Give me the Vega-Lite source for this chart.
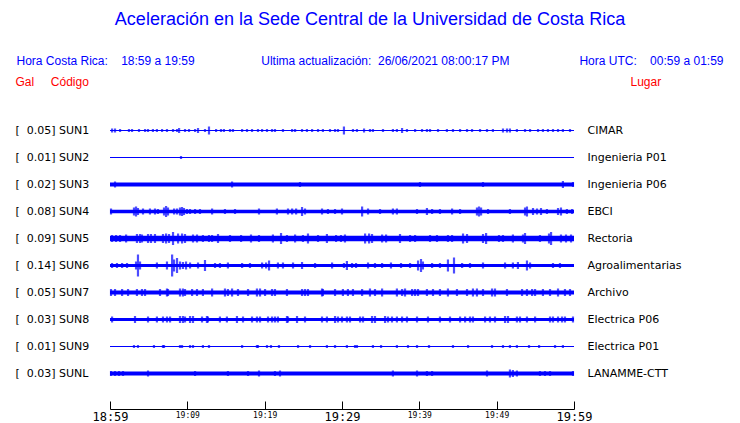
{
  "$schema": "https://vega.github.io/schema/vega-lite/v6.json",
  "autosize": {"type": "none"},
  "width": 464,
  "height": 270,
  "padding": {"left": 110, "top": 117, "right": 166, "bottom": 36},
  "background": "white",
  "config": {"view": {"stroke": null}, "font": "DejaVu Sans"},
  "title": {
    "text": "Aceleración en la Sede Central de la Universidad de Costa Rica",
    "subtitle": "Hora Costa Rica:\u00a0\u00a0\u00a0\u00a018:59 a 19:59\u00a0\u00a0\u00a0\u00a0\u00a0\u00a0\u00a0\u00a0\u00a0\u00a0\u00a0\u00a0\u00a0\u00a0\u00a0\u00a0\u00a0\u00a0\u00a0\u00a0Ultima actualización:\u00a0\u00a026/06/2021 08:00:17 PM\u00a0\u00a0\u00a0\u00a0\u00a0\u00a0\u00a0\u00a0\u00a0\u00a0\u00a0\u00a0\u00a0\u00a0\u00a0\u00a0\u00a0\u00a0\u00a0\u00a0\u00a0Hora UTC:\u00a0\u00a0\u00a0\u00a000:59 a 01:59",
    "anchor": "middle",
    "frame": "group",
    "dx": 28,
    "offset": 8,
    "color": "blue",
    "font": "Liberation Sans",
    "fontSize": 18,
    "fontWeight": "normal",
    "subtitleColor": "blue",
    "subtitleFont": "Liberation Sans",
    "subtitleFontSize": 12,
    "subtitlePadding": 27
  },
  "datasets": {
    "stations": [
      {"idx": 1, "s": "SUN1", "label": "[\u00a0\u00a00.05] SUN1", "place": "CIMAR", "ruido": 1, "t0": "18:59:00", "t1": "19:59:00"},
      {"idx": 2, "s": "SUN2", "label": "[\u00a0\u00a00.01] SUN2", "place": "Ingenieria P01", "ruido": 1, "t0": "18:59:00", "t1": "19:59:00"},
      {"idx": 3, "s": "SUN3", "label": "[\u00a0\u00a00.02] SUN3", "place": "Ingenieria P06", "ruido": 4, "t0": "18:59:00", "t1": "19:59:00"},
      {"idx": 4, "s": "SUN4", "label": "[\u00a0\u00a00.08] SUN4", "place": "EBCI", "ruido": 3.5, "t0": "18:59:00", "t1": "19:59:00"},
      {"idx": 5, "s": "SUN5", "label": "[\u00a0\u00a00.09] SUN5", "place": "Rectoria", "ruido": 5.5, "t0": "18:59:00", "t1": "19:59:00"},
      {"idx": 6, "s": "SUN6", "label": "[\u00a0\u00a00.14] SUN6", "place": "Agroalimentarias", "ruido": 3, "t0": "18:59:00", "t1": "19:59:00"},
      {"idx": 7, "s": "SUN7", "label": "[\u00a0\u00a00.05] SUN7", "place": "Archivo", "ruido": 4, "t0": "18:59:00", "t1": "19:59:00"},
      {"idx": 8, "s": "SUN8", "label": "[\u00a0\u00a00.03] SUN8", "place": "Electrica P06", "ruido": 3, "t0": "18:59:00", "t1": "19:59:00"},
      {"idx": 9, "s": "SUN9", "label": "[\u00a0\u00a00.01] SUN9", "place": "Electrica P01", "ruido": 1, "t0": "18:59:00", "t1": "19:59:00"},
      {"idx": 10, "s": "SUNL", "label": "[\u00a0\u00a00.03] SUNL", "place": "LANAMME-CTT", "ruido": 4, "t0": "18:59:00", "t1": "19:59:00"}
    ],
    "spikes": [
      {"s":"SUN1","t":"18:59:16","a":4},{"s":"SUN1","t":"18:59:39","a":4},{"s":"SUN1","t":"19:00:18","a":3},{"s":"SUN1","t":"19:01:27","a":3},{"s":"SUN1","t":"19:01:51","a":3},{"s":"SUN1","t":"19:02:45","a":3},{"s":"SUN1","t":"19:03:32","a":3},{"s":"SUN1","t":"19:03:55","a":3},{"s":"SUN1","t":"19:04:33","a":3},{"s":"SUN1","t":"19:05:04","a":3},{"s":"SUN1","t":"19:05:44","a":3},{"s":"SUN1","t":"19:06:22","a":3},{"s":"SUN1","t":"19:07:09","a":3},{"s":"SUN1","t":"19:07:40","a":3},{"s":"SUN1","t":"19:07:56","a":5},{"s":"SUN1","t":"19:08:42","a":3},{"s":"SUN1","t":"19:09:13","a":3},{"s":"SUN1","t":"19:10:00","a":3},{"s":"SUN1","t":"19:10:23","a":5},{"s":"SUN1","t":"19:11:17","a":3},{"s":"SUN1","t":"19:11:48","a":8},{"s":"SUN1","t":"19:12:43","a":3},{"s":"SUN1","t":"19:13:21","a":3},{"s":"SUN1","t":"19:13:44","a":3},{"s":"SUN1","t":"19:14:31","a":3},{"s":"SUN1","t":"19:14:54","a":3},{"s":"SUN1","t":"19:16:05","a":3},{"s":"SUN1","t":"19:16:43","a":3},{"s":"SUN1","t":"19:17:22","a":3},{"s":"SUN1","t":"19:18:08","a":3},{"s":"SUN1","t":"19:18:40","a":3},{"s":"SUN1","t":"19:19:18","a":3},{"s":"SUN1","t":"19:19:57","a":3},{"s":"SUN1","t":"19:20:20","a":3},{"s":"SUN1","t":"19:21:22","a":3},{"s":"SUN1","t":"19:22:33","a":3},{"s":"SUN1","t":"19:22:56","a":3},{"s":"SUN1","t":"19:23:50","a":3},{"s":"SUN1","t":"19:24:28","a":3},{"s":"SUN1","t":"19:25:08","a":3},{"s":"SUN1","t":"19:25:54","a":3},{"s":"SUN1","t":"19:26:32","a":3},{"s":"SUN1","t":"19:27:27","a":3},{"s":"SUN1","t":"19:28:06","a":3},{"s":"SUN1","t":"19:28:29","a":3},{"s":"SUN1","t":"19:29:15","a":8},{"s":"SUN1","t":"19:30:25","a":3},{"s":"SUN1","t":"19:30:56","a":3},{"s":"SUN1","t":"19:31:51","a":4},{"s":"SUN1","t":"19:32:37","a":3},{"s":"SUN1","t":"19:33:00","a":3},{"s":"SUN1","t":"19:34:18","a":3},{"s":"SUN1","t":"19:35:35","a":3},{"s":"SUN1","t":"19:36:06","a":3},{"s":"SUN1","t":"19:36:46","a":5},{"s":"SUN1","t":"19:37:24","a":3},{"s":"SUN1","t":"19:38:27","a":3},{"s":"SUN1","t":"19:39:21","a":3},{"s":"SUN1","t":"19:39:59","a":3},{"s":"SUN1","t":"19:40:23","a":3},{"s":"SUN1","t":"19:41:25","a":3},{"s":"SUN1","t":"19:42:34","a":3},{"s":"SUN1","t":"19:43:21","a":3},{"s":"SUN1","t":"19:44:16","a":3},{"s":"SUN1","t":"19:45:10","a":3},{"s":"SUN1","t":"19:45:49","a":3},{"s":"SUN1","t":"19:46:51","a":3},{"s":"SUN1","t":"19:47:45","a":3},{"s":"SUN1","t":"19:48:31","a":3},{"s":"SUN1","t":"19:49:49","a":4},{"s":"SUN1","t":"19:50:20","a":4},{"s":"SUN1","t":"19:50:43","a":4},{"s":"SUN1","t":"19:51:37","a":3},{"s":"SUN1","t":"19:52:40","a":3},{"s":"SUN1","t":"19:53:19","a":3},{"s":"SUN1","t":"19:54:21","a":3},{"s":"SUN1","t":"19:54:59","a":3},{"s":"SUN1","t":"19:55:38","a":3},{"s":"SUN1","t":"19:56:17","a":3},{"s":"SUN1","t":"19:56:56","a":3},{"s":"SUN1","t":"19:57:34","a":3},{"s":"SUN1","t":"19:58:29","a":3},
      {"s":"SUN2","t":"19:08:11","a":3},
      {"s":"SUN3","t":"18:59:39","a":6},{"s":"SUN3","t":"19:14:47","a":6},{"s":"SUN3","t":"19:23:34","a":5},{"s":"SUN3","t":"19:39:05","a":5},{"s":"SUN3","t":"19:47:14","a":5},{"s":"SUN3","t":"19:57:34","a":7},{"s":"SUN3","t":"19:58:52","a":5},
      {"s":"SUN4","t":"18:59:08","a":6},{"s":"SUN4","t":"19:02:06","a":8},{"s":"SUN4","t":"19:02:22","a":10},{"s":"SUN4","t":"19:02:37","a":7},{"s":"SUN4","t":"19:03:16","a":6},{"s":"SUN4","t":"19:04:10","a":6},{"s":"SUN4","t":"19:04:49","a":6},{"s":"SUN4","t":"19:05:12","a":5},{"s":"SUN4","t":"19:05:59","a":8},{"s":"SUN4","t":"19:06:15","a":11},{"s":"SUN4","t":"19:06:30","a":8},{"s":"SUN4","t":"19:07:17","a":6},{"s":"SUN4","t":"19:07:40","a":6},{"s":"SUN4","t":"19:08:03","a":8},{"s":"SUN4","t":"19:08:19","a":9},{"s":"SUN4","t":"19:08:34","a":7},{"s":"SUN4","t":"19:08:57","a":5},{"s":"SUN4","t":"19:09:21","a":5},{"s":"SUN4","t":"19:10:00","a":5},{"s":"SUN4","t":"19:10:38","a":5},{"s":"SUN4","t":"19:12:12","a":6},{"s":"SUN4","t":"19:13:52","a":5},{"s":"SUN4","t":"19:15:10","a":5},{"s":"SUN4","t":"19:18:16","a":6},{"s":"SUN4","t":"19:20:35","a":6},{"s":"SUN4","t":"19:22:01","a":6},{"s":"SUN4","t":"19:22:33","a":6},{"s":"SUN4","t":"19:23:04","a":6},{"s":"SUN4","t":"19:23:50","a":9},{"s":"SUN4","t":"19:24:13","a":6},{"s":"SUN4","t":"19:26:25","a":6},{"s":"SUN4","t":"19:27:11","a":5},{"s":"SUN4","t":"19:28:06","a":5},{"s":"SUN4","t":"19:29:00","a":6},{"s":"SUN4","t":"19:31:36","a":10},{"s":"SUN4","t":"19:32:22","a":6},{"s":"SUN4","t":"19:33:55","a":5},{"s":"SUN4","t":"19:35:35","a":6},{"s":"SUN4","t":"19:36:06","a":6},{"s":"SUN4","t":"19:38:42","a":5},{"s":"SUN4","t":"19:39:59","a":7},{"s":"SUN4","t":"19:40:39","a":5},{"s":"SUN4","t":"19:41:40","a":5},{"s":"SUN4","t":"19:43:14","a":6},{"s":"SUN4","t":"19:44:16","a":5},{"s":"SUN4","t":"19:46:27","a":8},{"s":"SUN4","t":"19:46:43","a":10},{"s":"SUN4","t":"19:46:59","a":8},{"s":"SUN4","t":"19:47:53","a":5},{"s":"SUN4","t":"19:50:43","a":5},{"s":"SUN4","t":"19:52:40","a":8},{"s":"SUN4","t":"19:52:55","a":10},{"s":"SUN4","t":"19:53:42","a":7},{"s":"SUN4","t":"19:54:13","a":6},{"s":"SUN4","t":"19:54:44","a":7},{"s":"SUN4","t":"19:55:30","a":5},{"s":"SUN4","t":"19:56:56","a":7},{"s":"SUN4","t":"19:57:19","a":8},{"s":"SUN4","t":"19:58:05","a":5},{"s":"SUN4","t":"19:58:45","a":5},
      {"s":"SUN5","t":"18:59:16","a":7},{"s":"SUN5","t":"18:59:47","a":7},{"s":"SUN5","t":"19:00:18","a":7},{"s":"SUN5","t":"19:01:05","a":8},{"s":"SUN5","t":"19:02:29","a":9},{"s":"SUN5","t":"19:02:53","a":9},{"s":"SUN5","t":"19:03:08","a":8},{"s":"SUN5","t":"19:03:55","a":9},{"s":"SUN5","t":"19:04:18","a":9},{"s":"SUN5","t":"19:04:49","a":9},{"s":"SUN5","t":"19:05:51","a":9},{"s":"SUN5","t":"19:06:15","a":10},{"s":"SUN5","t":"19:06:38","a":9},{"s":"SUN5","t":"19:07:09","a":13},{"s":"SUN5","t":"19:07:48","a":10},{"s":"SUN5","t":"19:08:19","a":10},{"s":"SUN5","t":"19:08:42","a":9},{"s":"SUN5","t":"19:09:44","a":8},{"s":"SUN5","t":"19:10:15","a":8},{"s":"SUN5","t":"19:11:01","a":7},{"s":"SUN5","t":"19:11:48","a":7},{"s":"SUN5","t":"19:12:12","a":7},{"s":"SUN5","t":"19:12:58","a":9},{"s":"SUN5","t":"19:14:31","a":7},{"s":"SUN5","t":"19:15:57","a":7},{"s":"SUN5","t":"19:17:14","a":8},{"s":"SUN5","t":"19:18:16","a":7},{"s":"SUN5","t":"19:20:04","a":8},{"s":"SUN5","t":"19:21:07","a":11},{"s":"SUN5","t":"19:21:53","a":7},{"s":"SUN5","t":"19:22:56","a":8},{"s":"SUN5","t":"19:23:57","a":7},{"s":"SUN5","t":"19:24:36","a":10},{"s":"SUN5","t":"19:25:54","a":7},{"s":"SUN5","t":"19:27:03","a":9},{"s":"SUN5","t":"19:28:14","a":7},{"s":"SUN5","t":"19:28:52","a":7},{"s":"SUN5","t":"19:29:23","a":8},{"s":"SUN5","t":"19:31:59","a":10},{"s":"SUN5","t":"19:32:30","a":10},{"s":"SUN5","t":"19:32:53","a":9},{"s":"SUN5","t":"19:34:11","a":8},{"s":"SUN5","t":"19:34:42","a":8},{"s":"SUN5","t":"19:36:30","a":9},{"s":"SUN5","t":"19:37:48","a":7},{"s":"SUN5","t":"19:38:27","a":7},{"s":"SUN5","t":"19:40:23","a":7},{"s":"SUN5","t":"19:41:17","a":7},{"s":"SUN5","t":"19:42:42","a":7},{"s":"SUN5","t":"19:43:14","a":7},{"s":"SUN5","t":"19:44:39","a":10},{"s":"SUN5","t":"19:45:10","a":9},{"s":"SUN5","t":"19:47:14","a":9},{"s":"SUN5","t":"19:47:38","a":11},{"s":"SUN5","t":"19:49:18","a":7},{"s":"SUN5","t":"19:49:49","a":7},{"s":"SUN5","t":"19:51:06","a":8},{"s":"SUN5","t":"19:52:24","a":8},{"s":"SUN5","t":"19:52:40","a":11},{"s":"SUN5","t":"19:54:36","a":7},{"s":"SUN5","t":"19:55:46","a":10},{"s":"SUN5","t":"19:56:02","a":13},{"s":"SUN5","t":"19:57:19","a":8},{"s":"SUN5","t":"19:57:58","a":8},{"s":"SUN5","t":"19:58:37","a":8},
      {"s":"SUN6","t":"18:59:16","a":5},{"s":"SUN6","t":"18:59:54","a":5},{"s":"SUN6","t":"19:00:34","a":5},{"s":"SUN6","t":"19:01:12","a":5},{"s":"SUN6","t":"19:02:22","a":8},{"s":"SUN6","t":"19:02:37","a":22},{"s":"SUN6","t":"19:02:53","a":8},{"s":"SUN6","t":"19:05:04","a":6},{"s":"SUN6","t":"19:06:22","a":8},{"s":"SUN6","t":"19:07:02","a":22},{"s":"SUN6","t":"19:07:17","a":12},{"s":"SUN6","t":"19:07:40","a":15},{"s":"SUN6","t":"19:08:03","a":8},{"s":"SUN6","t":"19:08:26","a":7},{"s":"SUN6","t":"19:08:50","a":8},{"s":"SUN6","t":"19:09:21","a":6},{"s":"SUN6","t":"19:10:23","a":6},{"s":"SUN6","t":"19:11:17","a":11},{"s":"SUN6","t":"19:12:35","a":5},{"s":"SUN6","t":"19:13:13","a":5},{"s":"SUN6","t":"19:14:15","a":6},{"s":"SUN6","t":"19:16:05","a":5},{"s":"SUN6","t":"19:17:06","a":5},{"s":"SUN6","t":"19:18:40","a":6},{"s":"SUN6","t":"19:19:11","a":6},{"s":"SUN6","t":"19:19:34","a":10},{"s":"SUN6","t":"19:20:43","a":6},{"s":"SUN6","t":"19:21:22","a":6},{"s":"SUN6","t":"19:22:40","a":6},{"s":"SUN6","t":"19:23:50","a":7},{"s":"SUN6","t":"19:25:31","a":5},{"s":"SUN6","t":"19:27:43","a":6},{"s":"SUN6","t":"19:29:15","a":5},{"s":"SUN6","t":"19:29:38","a":9},{"s":"SUN6","t":"19:30:18","a":5},{"s":"SUN6","t":"19:30:49","a":5},{"s":"SUN6","t":"19:32:22","a":6},{"s":"SUN6","t":"19:33:16","a":5},{"s":"SUN6","t":"19:34:11","a":5},{"s":"SUN6","t":"19:35:20","a":6},{"s":"SUN6","t":"19:36:38","a":5},{"s":"SUN6","t":"19:37:48","a":5},{"s":"SUN6","t":"19:38:50","a":10},{"s":"SUN6","t":"19:39:13","a":13},{"s":"SUN6","t":"19:39:28","a":8},{"s":"SUN6","t":"19:40:39","a":5},{"s":"SUN6","t":"19:41:40","a":5},{"s":"SUN6","t":"19:42:42","a":12},{"s":"SUN6","t":"19:43:29","a":16},{"s":"SUN6","t":"19:44:32","a":5},{"s":"SUN6","t":"19:45:33","a":5},{"s":"SUN6","t":"19:47:14","a":6},{"s":"SUN6","t":"19:50:05","a":6},{"s":"SUN6","t":"19:51:06","a":6},{"s":"SUN6","t":"19:51:45","a":7},{"s":"SUN6","t":"19:52:55","a":10},{"s":"SUN6","t":"19:53:19","a":6},{"s":"SUN6","t":"19:56:17","a":5},{"s":"SUN6","t":"19:57:11","a":5},
      {"s":"SUN7","t":"18:59:08","a":7},{"s":"SUN7","t":"18:59:39","a":7},{"s":"SUN7","t":"19:00:34","a":7},{"s":"SUN7","t":"19:01:20","a":7},{"s":"SUN7","t":"19:02:29","a":7},{"s":"SUN7","t":"19:03:08","a":7},{"s":"SUN7","t":"19:03:32","a":7},{"s":"SUN7","t":"19:05:28","a":7},{"s":"SUN7","t":"19:06:22","a":8},{"s":"SUN7","t":"19:06:30","a":7},{"s":"SUN7","t":"19:08:03","a":8},{"s":"SUN7","t":"19:08:26","a":8},{"s":"SUN7","t":"19:08:42","a":7},{"s":"SUN7","t":"19:09:37","a":7},{"s":"SUN7","t":"19:10:15","a":7},{"s":"SUN7","t":"19:11:01","a":7},{"s":"SUN7","t":"19:12:12","a":8},{"s":"SUN7","t":"19:13:52","a":8},{"s":"SUN7","t":"19:14:15","a":7},{"s":"SUN7","t":"19:14:47","a":8},{"s":"SUN7","t":"19:15:33","a":7},{"s":"SUN7","t":"19:16:51","a":7},{"s":"SUN7","t":"19:18:00","a":8},{"s":"SUN7","t":"19:18:24","a":8},{"s":"SUN7","t":"19:19:03","a":7},{"s":"SUN7","t":"19:19:57","a":7},{"s":"SUN7","t":"19:20:20","a":7},{"s":"SUN7","t":"19:21:53","a":7},{"s":"SUN7","t":"19:23:50","a":7},{"s":"SUN7","t":"19:24:13","a":7},{"s":"SUN7","t":"19:24:36","a":7},{"s":"SUN7","t":"19:26:25","a":8},{"s":"SUN7","t":"19:26:32","a":7},{"s":"SUN7","t":"19:28:06","a":7},{"s":"SUN7","t":"19:29:07","a":7},{"s":"SUN7","t":"19:29:46","a":7},{"s":"SUN7","t":"19:30:25","a":7},{"s":"SUN7","t":"19:31:36","a":7},{"s":"SUN7","t":"19:32:37","a":8},{"s":"SUN7","t":"19:33:16","a":7},{"s":"SUN7","t":"19:34:11","a":8},{"s":"SUN7","t":"19:36:06","a":8},{"s":"SUN7","t":"19:36:46","a":7},{"s":"SUN7","t":"19:37:09","a":8},{"s":"SUN7","t":"19:38:04","a":7},{"s":"SUN7","t":"19:38:27","a":7},{"s":"SUN7","t":"19:38:50","a":7},{"s":"SUN7","t":"19:39:59","a":7},{"s":"SUN7","t":"19:40:46","a":7},{"s":"SUN7","t":"19:41:40","a":7},{"s":"SUN7","t":"19:42:42","a":8},{"s":"SUN7","t":"19:43:52","a":7},{"s":"SUN7","t":"19:45:10","a":7},{"s":"SUN7","t":"19:45:56","a":8},{"s":"SUN7","t":"19:46:27","a":8},{"s":"SUN7","t":"19:47:14","a":7},{"s":"SUN7","t":"19:48:24","a":8},{"s":"SUN7","t":"19:48:47","a":8},{"s":"SUN7","t":"19:50:20","a":7},{"s":"SUN7","t":"19:52:17","a":7},{"s":"SUN7","t":"19:52:55","a":7},{"s":"SUN7","t":"19:53:35","a":7},{"s":"SUN7","t":"19:53:58","a":7},{"s":"SUN7","t":"19:54:59","a":7},{"s":"SUN7","t":"19:55:54","a":7},{"s":"SUN7","t":"19:56:56","a":8},{"s":"SUN7","t":"19:57:50","a":7},{"s":"SUN7","t":"19:58:29","a":7},
      {"s":"SUN8","t":"18:59:16","a":6},{"s":"SUN8","t":"19:02:14","a":7},{"s":"SUN8","t":"19:03:55","a":6},{"s":"SUN8","t":"19:05:04","a":6},{"s":"SUN8","t":"19:05:51","a":6},{"s":"SUN8","t":"19:06:22","a":6},{"s":"SUN8","t":"19:06:46","a":6},{"s":"SUN8","t":"19:08:03","a":7},{"s":"SUN8","t":"19:08:26","a":7},{"s":"SUN8","t":"19:08:42","a":6},{"s":"SUN8","t":"19:09:21","a":7},{"s":"SUN8","t":"19:09:44","a":7},{"s":"SUN8","t":"19:10:54","a":6},{"s":"SUN8","t":"19:11:32","a":7},{"s":"SUN8","t":"19:11:40","a":6},{"s":"SUN8","t":"19:13:13","a":6},{"s":"SUN8","t":"19:14:07","a":6},{"s":"SUN8","t":"19:15:25","a":7},{"s":"SUN8","t":"19:16:12","a":6},{"s":"SUN8","t":"19:17:22","a":6},{"s":"SUN8","t":"19:18:00","a":6},{"s":"SUN8","t":"19:18:24","a":6},{"s":"SUN8","t":"19:19:26","a":6},{"s":"SUN8","t":"19:19:57","a":6},{"s":"SUN8","t":"19:20:20","a":6},{"s":"SUN8","t":"19:20:43","a":6},{"s":"SUN8","t":"19:21:53","a":7},{"s":"SUN8","t":"19:22:01","a":6},{"s":"SUN8","t":"19:23:11","a":7},{"s":"SUN8","t":"19:24:13","a":6},{"s":"SUN8","t":"19:26:25","a":6},{"s":"SUN8","t":"19:27:03","a":6},{"s":"SUN8","t":"19:28:06","a":7},{"s":"SUN8","t":"19:28:29","a":6},{"s":"SUN8","t":"19:29:00","a":6},{"s":"SUN8","t":"19:29:38","a":6},{"s":"SUN8","t":"19:30:02","a":6},{"s":"SUN8","t":"19:31:20","a":6},{"s":"SUN8","t":"19:31:43","a":6},{"s":"SUN8","t":"19:32:53","a":7},{"s":"SUN8","t":"19:33:16","a":7},{"s":"SUN8","t":"19:34:34","a":7},{"s":"SUN8","t":"19:34:57","a":6},{"s":"SUN8","t":"19:35:28","a":6},{"s":"SUN8","t":"19:36:06","a":6},{"s":"SUN8","t":"19:36:46","a":6},{"s":"SUN8","t":"19:37:24","a":6},{"s":"SUN8","t":"19:38:42","a":6},{"s":"SUN8","t":"19:40:07","a":6},{"s":"SUN8","t":"19:41:40","a":6},{"s":"SUN8","t":"19:42:58","a":6},{"s":"SUN8","t":"19:44:16","a":6},{"s":"SUN8","t":"19:44:55","a":6},{"s":"SUN8","t":"19:45:33","a":6},{"s":"SUN8","t":"19:45:56","a":6},{"s":"SUN8","t":"19:47:30","a":6},{"s":"SUN8","t":"19:48:08","a":6},{"s":"SUN8","t":"19:48:47","a":6},{"s":"SUN8","t":"19:50:05","a":7},{"s":"SUN8","t":"19:50:28","a":7},{"s":"SUN8","t":"19:51:37","a":6},{"s":"SUN8","t":"19:52:01","a":6},{"s":"SUN8","t":"19:52:55","a":6},{"s":"SUN8","t":"19:53:58","a":6},{"s":"SUN8","t":"19:55:54","a":6},{"s":"SUN8","t":"19:56:17","a":6},{"s":"SUN8","t":"19:56:56","a":6},{"s":"SUN8","t":"19:57:27","a":6},{"s":"SUN8","t":"19:57:50","a":6},{"s":"SUN8","t":"19:58:52","a":6},
      {"s":"SUN9","t":"19:02:06","a":3},{"s":"SUN9","t":"19:02:37","a":3},{"s":"SUN9","t":"19:04:41","a":3},{"s":"SUN9","t":"19:05:51","a":3},{"s":"SUN9","t":"19:05:59","a":3},{"s":"SUN9","t":"19:08:03","a":3},{"s":"SUN9","t":"19:08:19","a":3},{"s":"SUN9","t":"19:09:21","a":3},{"s":"SUN9","t":"19:09:44","a":3},{"s":"SUN9","t":"19:11:01","a":3},{"s":"SUN9","t":"19:11:48","a":3},{"s":"SUN9","t":"19:16:05","a":3},{"s":"SUN9","t":"19:18:00","a":3},{"s":"SUN9","t":"19:18:08","a":3},{"s":"SUN9","t":"19:19:18","a":3},{"s":"SUN9","t":"19:19:49","a":3},{"s":"SUN9","t":"19:20:51","a":3},{"s":"SUN9","t":"19:23:19","a":3},{"s":"SUN9","t":"19:24:52","a":3},{"s":"SUN9","t":"19:27:03","a":3},{"s":"SUN9","t":"19:28:06","a":3},{"s":"SUN9","t":"19:29:38","a":3},{"s":"SUN9","t":"19:30:41","a":3},{"s":"SUN9","t":"19:30:56","a":3},{"s":"SUN9","t":"19:33:00","a":3},{"s":"SUN9","t":"19:34:03","a":3},{"s":"SUN9","t":"19:36:06","a":3},{"s":"SUN9","t":"19:37:32","a":3},{"s":"SUN9","t":"19:38:42","a":3},{"s":"SUN9","t":"19:40:15","a":3},{"s":"SUN9","t":"19:43:21","a":3},{"s":"SUN9","t":"19:45:18","a":3},{"s":"SUN9","t":"19:48:24","a":3},{"s":"SUN9","t":"19:49:49","a":3},{"s":"SUN9","t":"19:50:43","a":3},{"s":"SUN9","t":"19:51:37","a":3},{"s":"SUN9","t":"19:53:11","a":3},{"s":"SUN9","t":"19:54:29","a":3},{"s":"SUN9","t":"19:56:33","a":3},{"s":"SUN9","t":"19:57:34","a":3},
      {"s":"SUNL","t":"18:59:08","a":5},{"s":"SUNL","t":"18:59:39","a":5},{"s":"SUNL","t":"19:00:10","a":5},{"s":"SUNL","t":"19:00:41","a":5},{"s":"SUNL","t":"19:03:55","a":6},{"s":"SUNL","t":"19:10:00","a":5},{"s":"SUNL","t":"19:14:15","a":5},{"s":"SUNL","t":"19:16:51","a":5},{"s":"SUNL","t":"19:18:16","a":6},{"s":"SUNL","t":"19:20:20","a":5},{"s":"SUNL","t":"19:20:59","a":6},{"s":"SUNL","t":"19:35:35","a":6},{"s":"SUNL","t":"19:38:42","a":6},{"s":"SUNL","t":"19:39:59","a":5},{"s":"SUNL","t":"19:40:39","a":5},{"s":"SUNL","t":"19:47:45","a":6},{"s":"SUNL","t":"19:50:43","a":8},{"s":"SUNL","t":"19:51:06","a":7},{"s":"SUNL","t":"19:51:37","a":6},{"s":"SUNL","t":"19:54:36","a":5},{"s":"SUNL","t":"19:55:15","a":5},{"s":"SUNL","t":"19:55:54","a":5},{"s":"SUNL","t":"19:58:52","a":5}
    ]
  },
  "layer": [
    {
      "data": {"name": "stations", "format": {"parse": {"t0": "date:'%H:%M:%S'", "t1": "date:'%H:%M:%S'"}}},
      "mark": {"type": "bar", "color": "#0000ff"},
      "encoding": {
        "x": {
          "field": "t0", "type": "temporal",
          "scale": {"domain": [{"year": 1900, "month": 1, "date": 1, "hours": 18, "minutes": 59}, {"year": 1900, "month": 1, "date": 1, "hours": 19, "minutes": 59}], "nice": false},
          "axis": {
            "title": null, "orient": "bottom", "offset": 22, "grid": false,
            "values": [
              {"year": 1900, "month": 1, "date": 1, "hours": 18, "minutes": 59},
              {"year": 1900, "month": 1, "date": 1, "hours": 19, "minutes": 4},
              {"year": 1900, "month": 1, "date": 1, "hours": 19, "minutes": 9},
              {"year": 1900, "month": 1, "date": 1, "hours": 19, "minutes": 14},
              {"year": 1900, "month": 1, "date": 1, "hours": 19, "minutes": 19},
              {"year": 1900, "month": 1, "date": 1, "hours": 19, "minutes": 24},
              {"year": 1900, "month": 1, "date": 1, "hours": 19, "minutes": 29},
              {"year": 1900, "month": 1, "date": 1, "hours": 19, "minutes": 34},
              {"year": 1900, "month": 1, "date": 1, "hours": 19, "minutes": 39},
              {"year": 1900, "month": 1, "date": 1, "hours": 19, "minutes": 44},
              {"year": 1900, "month": 1, "date": 1, "hours": 19, "minutes": 49},
              {"year": 1900, "month": 1, "date": 1, "hours": 19, "minutes": 54},
              {"year": 1900, "month": 1, "date": 1, "hours": 19, "minutes": 59}
            ],
            "format": "%H:%M",
            "labelExpr": "minutes(datum.value) % 10 == 9 ? datum.label : ''",
            "labelFont": "DejaVu Sans Mono",
            "labelFontSize": {"condition": {"test": "minutes(datum.value) % 30 == 29", "value": 12}, "value": 8},
            "labelColor": "black",
            "labelFlush": false,
            "labelOverlap": false,
            "labelBaseline": "top",
            "labelPadding": 10.5,
            "tickSize": -8,
            "tickColor": "black",
            "domainColor": "black"
          }
        },
        "x2": {"field": "t1"},
        "y": {
          "field": "place", "type": "nominal",
          "sort": {"field": "idx", "op": "min"},
          "scale": {"paddingInner": 0, "paddingOuter": 0},
          "axis": {
            "orient": "right", "title": "Lugar", "ticks": false, "tickSize": 0, "domain": false,
            "labelAlign": "left", "labelPadding": 13, "labelFont": "DejaVu Sans", "labelFontSize": 11, "labelColor": "black",
            "titleAngle": 0, "titleAlign": "left", "titleBaseline": "middle", "titleX": 56, "titleY": -36,
            "titleColor": "red", "titleFont": "Liberation Sans", "titleFontSize": 12, "titleFontWeight": "normal"
          }
        },
        "size": {"field": "ruido", "type": "quantitative", "scale": {"domain": [0, 27], "range": [0, 27]}, "legend": null}
      }
    },
    {
      "data": {"name": "spikes", "format": {"parse": {"t": "date:'%H:%M:%S'"}}},
      "transform": [{"lookup": "s", "from": {"data": {"name": "stations"}, "key": "s", "fields": ["label", "idx"]}}],
      "mark": {"type": "tick", "color": "#0000ff", "thickness": 2.2},
      "encoding": {
        "x": {"field": "t", "type": "temporal"},
        "y": {
          "field": "label", "type": "nominal",
          "sort": {"field": "idx", "op": "min"},
          "scale": {"paddingInner": 0, "paddingOuter": 0},
          "axis": {
            "orient": "left", "title": "Gal\u00a0\u00a0\u00a0\u00a0\u00a0Código", "ticks": false, "tickSize": 0, "domain": false,
            "labelAlign": "left", "labelPadding": 95, "labelFont": "DejaVu Sans", "labelFontSize": 11, "labelColor": "black",
            "titleAngle": 0, "titleAlign": "left", "titleBaseline": "middle", "titleX": -95, "titleY": -36,
            "titleColor": "red", "titleFont": "Liberation Sans", "titleFontSize": 12, "titleFontWeight": "normal"
          }
        },
        "size": {"field": "a", "type": "quantitative", "scale": {"domain": [0, 27], "range": [0, 27]}, "legend": null}
      }
    }
  ],
  "resolve": {"scale": {"y": "independent"}, "axis": {"y": "independent"}}
}
